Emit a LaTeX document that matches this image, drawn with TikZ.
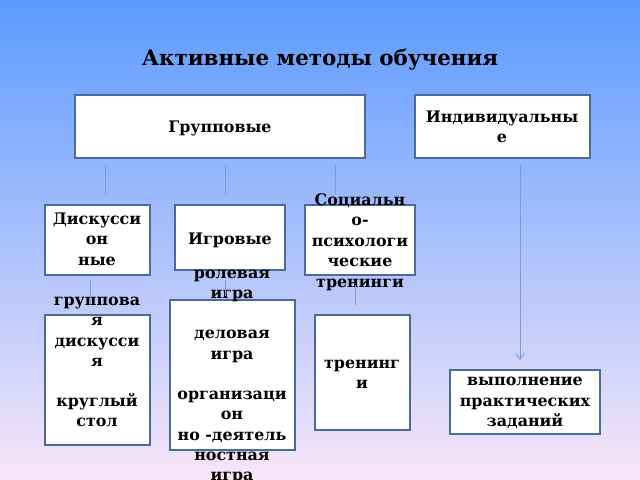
\documentclass[tikz,border=0pt]{standalone}
\usepackage{fontspec}
\setmainfont{DejaVu Serif}
\usetikzlibrary{arrows.meta}
\definecolor{bgtop}{HTML}{5B9BFF}
\definecolor{bgbot}{HTML}{F8E6F8}
\definecolor{bord}{HTML}{4A6A9A}
\definecolor{conn}{HTML}{7E9CD0}
\tikzset{
 box/.style={draw=bord,line width=1.5pt,fill=white},
 txt/.style={font=\bfseries\fontsize{11.3}{14.5}\selectfont,align=center,text=black,inner sep=0pt},
 link/.style={draw=conn,line width=0.7pt}
}
\begin{document}
\begin{tikzpicture}[x=0.025cm,y=-0.025cm]
\useasboundingbox (0,0) rectangle (640,480);
\shade[top color=bgtop,bottom color=bgbot] (0,0) rectangle (640,480);
\node[txt,font=\bfseries\fontsize{15.2}{18}\selectfont] (title) at (320,60) {Активные методы обучения};
% boxes
\draw[box] (75,95) rectangle (365,158); \node[txt] (g) at (220,128) {Групповые};
\draw[box] (415,95) rectangle (590,158); \node[txt] (ind) at (502,127) {Индивидуальны\\е};
\draw[box] (45,205) rectangle (150,275); \node[txt] (d) at (97,239) {Дискусси\\он\\ные};
\draw[box] (175,205) rectangle (285,270); \node[txt] (ig) at (230,240) {Игровые};
\draw[box] (305,205) rectangle (415,275); \node[txt] (s) at (360,242) {Социальн\\о-\\психологи\\ческие\\тренинги};
\draw[box] (45,315) rectangle (150,445); \node[txt] (gd) at (97,362) {группова\\я\\дискусси\\я\\[14pt]круглый\\стол};
\draw[box] (170,300) rectangle (295,450); \node[txt] (ri) at (232,377) {ролевая\\игра\\[14pt]деловая\\игра\\[14pt]организаци\\он\\но -деятель\\ностная\\игра};
\draw[box] (315,315) rectangle (410,430); \node[txt] (tr) at (362,374) {тренинг\\и};
\draw[box] (450,370) rectangle (600,434); \node[txt] (vp) at (525,403) {выполнение\\практических\\заданий};
% connectors
\coordinate (a1) at (105,165); \coordinate (a2) at (105,195);
\coordinate (b1) at (225,165); \coordinate (b2) at (225,195);
\coordinate (c1) at (335,165); \coordinate (c2) at (335,195);
\coordinate (e1) at (520,165); \coordinate (e2) at (520,360);
\coordinate (f1) at (90,280); \coordinate (f2) at (90,305);
\coordinate (h1) at (225,280); \coordinate (h2) at (225,296);
\coordinate (k1) at (355,285); \coordinate (k2) at (355,305);
\draw[link] (a1)--(a2); \draw[link] (b1)--(b2); \draw[link] (c1)--(c2);
\draw[link,-{Straight Barb[length=4pt,width=6pt]}] (e1)--(e2);
\draw[link] (f1)--(f2); \draw[link] (h1)--(h2); \draw[link] (k1)--(k2);
\end{tikzpicture}
\end{document}
